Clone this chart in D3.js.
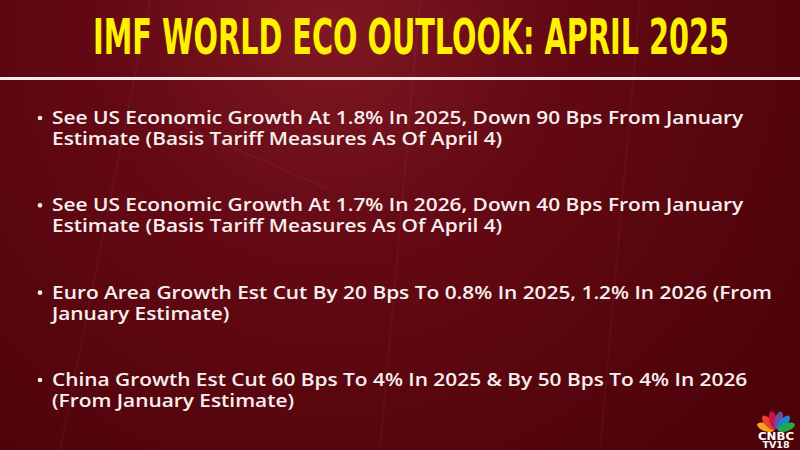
<!DOCTYPE html>
<html>
<head>
<meta charset="utf-8">
<script src="https://cdn.jsdelivr.net/npm/d3@7/dist/d3.min.js"></script>
<style>
  html, body { margin: 0; padding: 0; background: #5a0610; }
  svg { display: block; }
</style>
</head>
<body>
<svg id="slide"></svg>
<script>
// slide content
var titleText = "IMF WORLD ECO OUTLOOK: APRIL 2025";
var bulletLine1 = [
  "See US Economic Growth At 1.8% In 2025, Down 90 Bps From January",
  "See US Economic Growth At 1.7% In 2026, Down 40 Bps From January",
  "Euro Area Growth Est Cut By 20 Bps To 0.8% In 2025, 1.2% In 2026 (From",
  "China Growth Est Cut 60 Bps To 4% In 2025 & By 50 Bps To 4% In 2026"
];
var bulletLine2 = [
  "Estimate (Basis Tariff Measures As Of April 4)",
  "Estimate (Basis Tariff Measures As Of April 4)",
  "January Estimate)",
  "(From January Estimate)"
];
var logoWords = ["CNBC", "TV18"];
var featherColors = ["#f7a21b", "#e8412c", "#c8134f", "#6a4fa0", "#1a86cf", "#22a84a"];

var width = 800, height = 450;

var svg = d3.select("#slide")
    .attr("width", width)
    .attr("height", height);

var defs = svg.append("defs");
var bg = defs.append("radialGradient")
    .attr("id", "bg")
    .attr("gradientUnits", "userSpaceOnUse")
    .attr("cx", 330).attr("cy", 30).attr("r", 560);
bg.append("stop").attr("offset", "0%").attr("stop-color", "#7e1822");
bg.append("stop").attr("offset", "40%").attr("stop-color", "#640914");
bg.append("stop").attr("offset", "100%").attr("stop-color", "#4d0309");

svg.append("rect")
    .attr("width", width)
    .attr("height", height)
    .attr("fill", "url(#bg)");

// faint streaks in the backdrop
var streaks = [[150, 0, 60, 450], [420, 0, 380, 450], [640, 0, 600, 450], [170, 120, 330, 190]];
svg.append("g").selectAll("line")
    .data(streaks)
  .enter().append("line")
    .attr("x1", function(d) { return d[0]; })
    .attr("y1", function(d) { return d[1]; })
    .attr("x2", function(d) { return d[2]; })
    .attr("y2", function(d) { return d[3]; })
    .attr("stroke", "#ffffff")
    .attr("stroke-opacity", 0.035)
    .attr("stroke-width", 2);

// title: condensed and stretched tall
svg.append("text")
    .attr("transform", "translate(411,54) scale(1,1.36)")
    .attr("text-anchor", "middle")
    .attr("textLength", 636)
    .attr("lengthAdjust", "spacingAndGlyphs")
    .style("font-family", "'DejaVu Sans Condensed', 'DejaVu Sans', sans-serif")
    .style("font-weight", "bold")
    .style("font-size", "36px")
    .style("fill", "#fff200")
    .text(titleText);

svg.append("rect")
    .attr("x", 0)
    .attr("y", 77)
    .attr("width", width)
    .attr("height", 3)
    .attr("fill", "#f3eaea");

// bullets
var yscale = d3.scaleLinear()
    .domain([0, bulletLine1.length - 1])
    .range([124, 386]);
var lineGap = 21;

var bullet = svg.append("g").attr("class", "bullets").selectAll("g")
    .data(bulletLine1)
  .enter().append("g")
    .attr("transform", function(d, i) { return "translate(0," + yscale(i) + ")"; });

bullet.append("circle")
    .attr("cx", 40)
    .attr("cy", -6)
    .attr("r", 2.3)
    .attr("fill", "#f4eeee");

var textStyle = function(sel) {
  sel.attr("x", 52)
     .style("font-family", "'Open Sans', sans-serif")
     .style("font-weight", 600)
     .style("font-size", "18px")
     .style("fill", "#f6f0f0");
};

var first = bullet.append("text").call(textStyle)
    .attr("y", 0)
    .text(function(d) { return d; });
var second = bullet.append("text").call(textStyle)
    .attr("y", lineGap)
    .text(function(d, i) { return bulletLine2[i]; });

// widen the lines evenly so the longest one spans like the reference
var longest = first.filter(function(d, i) { return i === 2; }).node().getComputedTextLength();
var k = 720 / longest;
svg.selectAll(".bullets text").each(function() {
  var w = this.getComputedTextLength();
  d3.select(this).attr("textLength", w * k).attr("lengthAdjust", "spacingAndGlyphs");
});

// logo
var logo = svg.append("g").attr("transform", "translate(776,431)");
var angle = d3.scaleLinear()
    .domain([0, featherColors.length - 1])
    .range([-70, 70]);
logo.selectAll("ellipse")
    .data(featherColors)
  .enter().append("ellipse")
    .attr("cx", 0)
    .attr("cy", -11)
    .attr("rx", 4)
    .attr("ry", 9)
    .attr("fill", function(d) { return d; })
    .attr("transform", function(d, i) { return "rotate(" + angle(i) + ")"; });
logo.append("text")
    .attr("x", 0)
    .attr("y", 9)
    .attr("text-anchor", "middle")
    .attr("textLength", 36)
    .attr("lengthAdjust", "spacingAndGlyphs")
    .style("font-family", "'DejaVu Sans', sans-serif")
    .style("font-weight", "bold")
    .style("font-size", "10px")
    .style("fill", "#ffffff")
    .text(logoWords[0]);
logo.append("text")
    .attr("x", 0)
    .attr("y", 17)
    .attr("text-anchor", "middle")
    .attr("textLength", 27)
    .attr("lengthAdjust", "spacingAndGlyphs")
    .style("font-family", "'DejaVu Sans', sans-serif")
    .style("font-weight", "bold")
    .style("font-size", "8px")
    .style("fill", "#ffffff")
    .text(logoWords[1]);
</script>
</body>
</html>
